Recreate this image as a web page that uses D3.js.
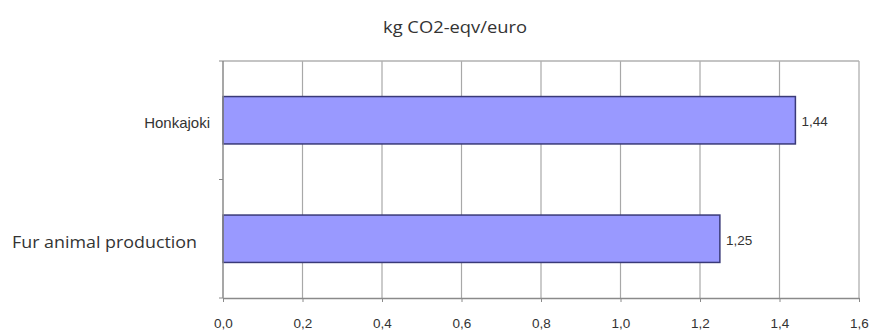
<!DOCTYPE html>
<html><head><meta charset="utf-8">
<script src="https://cdn.jsdelivr.net/npm/d3@7"></script>
<style>body{margin:0;background:#fff}</style>
</head><body>
<svg id="c" width="873" height="334"></svg>
<script>
const categories = ["Honkajoki", "Fur animal production"];
const values = [1.44, 1.25];
const valueLabels = ["1,44", "1,25"];
const xTicks = [0, 0.2, 0.4, 0.6, 0.8, 1.0, 1.2, 1.4, 1.6];
const title = "kg CO2-eqv/euro";

const svg = d3.select("#c");
const L = 223, R = 859, T = 61, B = 298;
const x = d3.scaleLinear().domain([0, 1.6]).range([L, R]);
const y = d3.scaleBand().domain(categories).range([T, B]).paddingInner(0.6).paddingOuter(0.3);
const yOuter = d3.scaleBand().domain(categories).range([T, B]);

// gridlines
svg.append("g").selectAll("line").data(xTicks.slice(1)).join("line")
  .attr("x1", d => x(d)).attr("x2", d => x(d)).attr("y1", T).attr("y2", B)
  .attr("stroke", "#a8a8a8").attr("stroke-width", 1.2);
// top border
svg.append("line").attr("x1", L).attr("x2", R).attr("y1", T).attr("y2", T)
  .attr("stroke", "#b0b0b0").attr("stroke-width", 1.5);

// bars
svg.append("g").selectAll("rect").data(categories).join("rect")
  .attr("x", x(0)).attr("y", d => y(d))
  .attr("width", (d, i) => x(values[i]) - x(0)).attr("height", y.bandwidth())
  .attr("fill", "#9999ff").attr("stroke", "#3a3a78").attr("stroke-width", 1.5);

// value labels
svg.append("g").selectAll("text").data(categories).join("text")
  .attr("x", (d, i) => x(values[i]) + 6).attr("y", d => y(d) + y.bandwidth() / 2)
  .attr("dy", "0.45em").attr("font-family", "Liberation Sans, Arial, sans-serif")
  .attr("font-size", 13.5).attr("fill", "#333").text((d, i) => valueLabels[i]);

// x axis
const xAxis = d3.axisBottom(x).tickValues(xTicks).tickSize(4).tickSizeOuter(0)
  .tickFormat(d => d3.format(".1f")(d).replace(".", ","));
const gx = svg.append("g").attr("transform", `translate(0,${B})`).call(xAxis);
gx.select(".domain").attr("stroke", "#8a8a8a").attr("stroke-width", 1.5);
gx.selectAll(".tick line").attr("stroke", "#8a8a8a");
gx.selectAll(".tick text").attr("font-family", "Liberation Sans, Arial, sans-serif")
  .attr("font-size", 13.5).attr("fill", "#333").attr("y", 30).attr("dy", "0");

// y axis
const gy = svg.append("g").attr("transform", `translate(${L},0)`);
gy.append("line").attr("x1", 0).attr("x2", 0).attr("y1", T).attr("y2", B)
  .attr("stroke", "#8a8a8a").attr("stroke-width", 1.5);
const yTickPos = [T, ...categories.slice(1).map(c => yOuter(c)), B];
gy.selectAll("line.t").data(yTickPos).join("line").attr("class", "t")
  .attr("x1", -4).attr("x2", 0).attr("y1", d => d).attr("y2", d => d)
  .attr("stroke", "#8a8a8a");

// category labels
const catStyles = [
  {font: "Liberation Sans, Arial, sans-serif", size: 15, right: 210, dy: "0.5em", len: null},
  {font: "Open Sans, sans-serif", size: 17, right: 197, dy: "0.55em", len: 185}
];
const cl = svg.append("g").selectAll("text").data(categories).join("text")
  .attr("x", (d, i) => catStyles[i].right).attr("y", d => y(d) + y.bandwidth() / 2)
  .attr("dy", (d, i) => catStyles[i].dy)
  .attr("text-anchor", "end")
  .attr("font-family", (d, i) => catStyles[i].font)
  .attr("font-size", (d, i) => catStyles[i].size)
  .attr("fill", "#333").text(d => d);
cl.filter((d, i) => catStyles[i].len).attr("textLength", (d, i) => 185).attr("lengthAdjust", "spacingAndGlyphs");

// title
svg.append("text").attr("x", 455).attr("y", 33).attr("text-anchor", "middle")
  .attr("font-family", "Open Sans, sans-serif").attr("font-size", 17)
  .attr("textLength", 144).attr("lengthAdjust", "spacingAndGlyphs")
  .attr("fill", "#333").text(title);
</script>
</body></html>
